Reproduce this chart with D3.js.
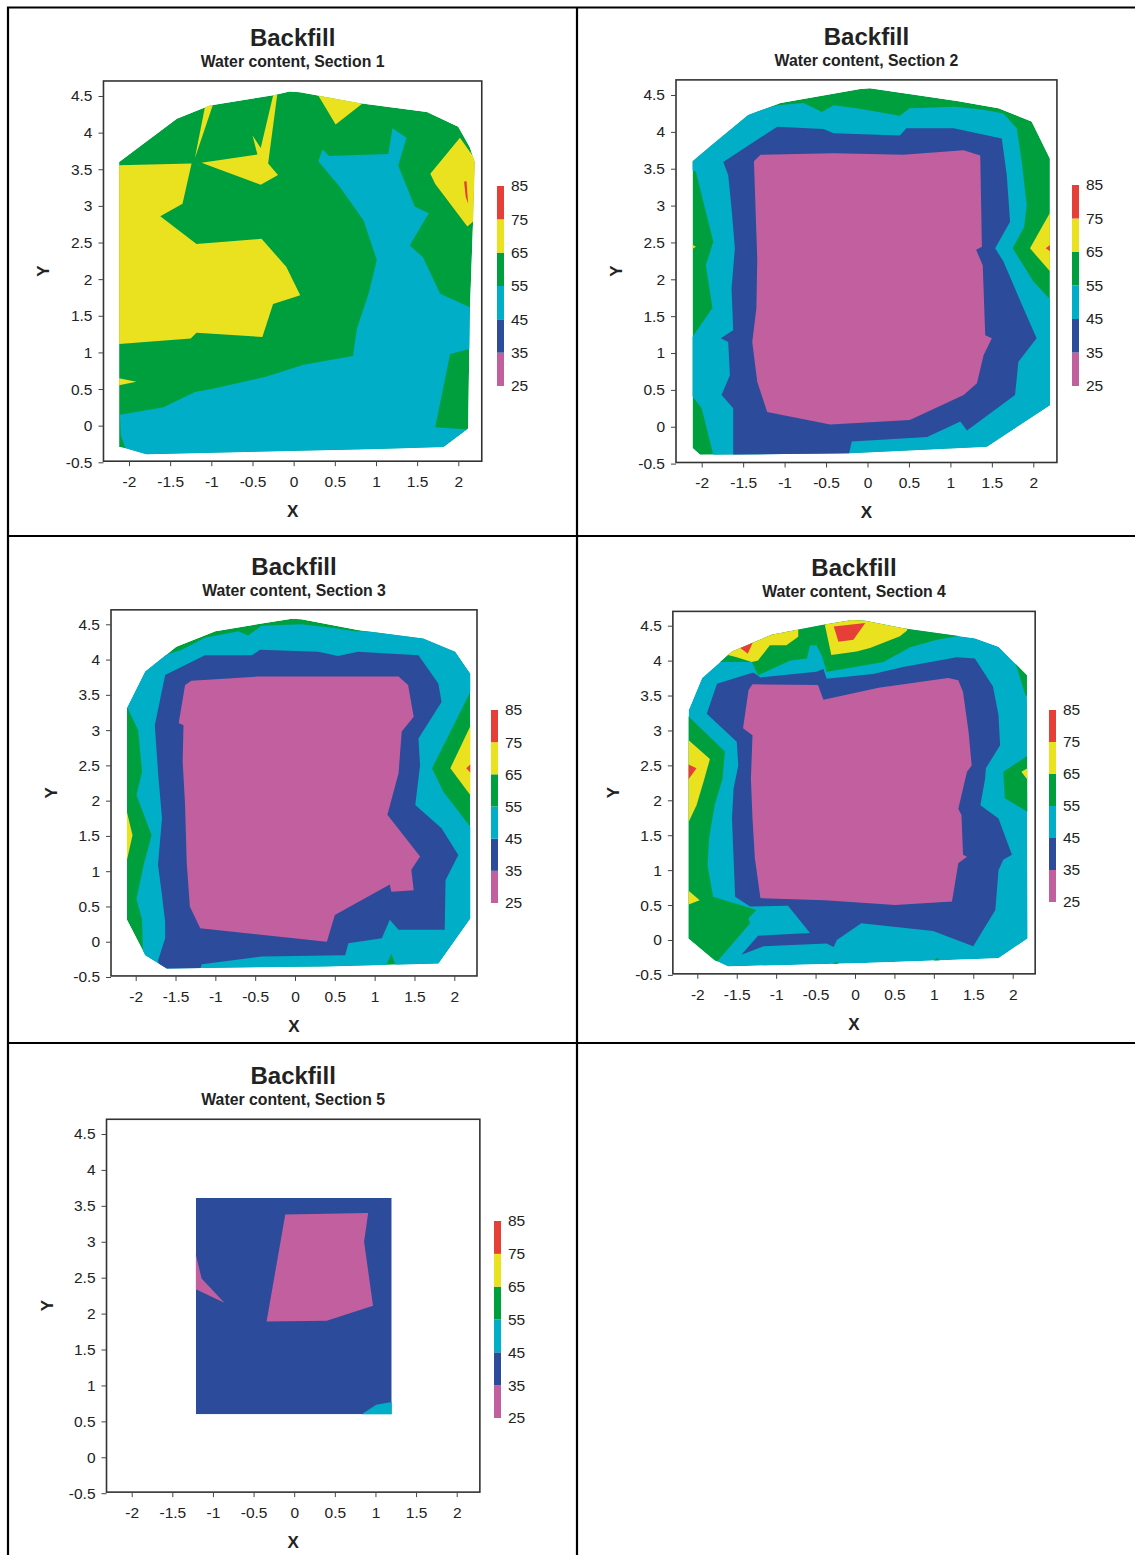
<!DOCTYPE html>
<html>
<head>
<meta charset="utf-8">
<script src="https://cdn.jsdelivr.net/npm/d3@7"></script>
<style>
  body { margin: 0; background: #fff; }
  svg { display: block; }
  text { font-family: "Liberation Sans", Arial, sans-serif; fill: #222; }
</style>
</head>
<body>
<svg id="chart" width="1135" height="1555"></svg>
<script>
// Water content bands (%), lower bound of each colour band and the band colours
const levels = [25, 35, 45, 55, 65, 75, 85];
const bandColors = ["#c2609f", "#2d4b9b", "#00aec7", "#009f3d", "#ebe21f", "#e63f38"];
const legendLabels = ["25", "35", "45", "55", "65", "75", "85"];

const xTicks = [-2, -1.5, -1, -0.5, 0, 0.5, 1, 1.5, 2];
const yTicks = [-0.5, 0, 0.5, 1, 1.5, 2, 2.5, 3, 3.5, 4, 4.5];
const xExtent = [-2.31, 2.285];
const yExtent = [-0.485, 4.705];

const mainTitle = "Backfill";
const sectionTitles = ["Water content, Section 1", "Water content, Section 2",
  "Water content, Section 3", "Water content, Section 4", "Water content, Section 5"];

// Section 1: measured outline (value inside band 55-65) and banded zones, x/y in metres
const s1Hull = [[-2.12,-0.29],[-2.12,3.60],[-1.42,4.19],[-1.02,4.37],[-0.25,4.51],[-0.05,4.56],[0.08,4.55],[0.81,4.40],[1.62,4.28],[2.00,4.08],[2.14,3.80],[2.20,3.60],[2.18,2.80],[2.14,1.53],[2.12,-0.04],[1.82,-0.29],[1.01,-0.32],[-1.79,-0.39],[-2.03,-0.31]];
const s1Zones = [
  {v: 70, pts: [[-2.3,3.55],[-1.24,3.58],[-1.35,3.03],[-1.62,2.86],[-1.18,2.48],[-0.39,2.55],[-0.09,2.17],[0.08,1.78],[-0.25,1.66],[-0.38,1.21],[-1.18,1.27],[-1.25,1.19],[-2.3,1.10]]},
  {v: 70, pts: [[-2.3,0.69],[-1.91,0.60],[-2.3,0.51]]},
  {v: 70, pts: [[-1.06,4.45],[-0.96,4.45],[-1.20,3.65]]},
  {v: 70, pts: [[-1.12,3.59],[-0.44,3.70],[-0.50,3.96],[-0.40,3.79],[-0.23,4.60],[-0.19,4.60],[-0.31,3.58],[-0.19,3.42],[-0.40,3.29]]},
  {v: 70, pts: [[0.25,4.6],[0.88,4.6],[0.84,4.40],[0.51,4.11]]},
  {v: 70, pts: [[1.66,3.44],[2.02,3.93],[2.14,3.74],[2.3,3.5],[2.3,2.9],[2.11,2.72],[1.72,3.30]]},
  {v: 80, pts: [[2.07,3.33],[2.10,3.34],[2.12,3.03],[2.09,3.12]]},
  {v: 50, pts: [[0.30,3.61],[0.35,3.77],[0.43,3.68],[1.15,3.71],[1.20,4.06],[1.37,3.93],[1.27,3.55],[1.47,2.99],[1.64,2.90],[1.41,2.46],[1.57,2.30],[1.78,1.80],[2.25,1.56],[2.25,1.08],[1.90,0.98],[1.72,-0.02],[2.08,-0.05],[2.3,-0.05],[2.3,-0.6],[-1.95,-0.6],[-2.10,-0.13],[-2.11,0.15],[-1.58,0.25],[-1.20,0.46],[-1.00,0.50],[-0.33,0.67],[0.12,0.83],[0.72,0.95],[0.77,1.33],[0.91,1.80],[1.01,2.26],[0.85,2.80],[0.56,3.26]]}
];

// Section 2
const s2Hull = [[-2.11,-0.29],[-2.11,3.60],[-1.90,3.80],[-1.44,4.23],[-1.05,4.39],[-0.09,4.58],[0.03,4.59],[1.08,4.42],[1.58,4.32],[1.98,4.14],[2.20,3.64],[2.20,0.29],[1.44,-0.27],[-0.21,-0.36],[-2.02,-0.38]];
const s2Zones = [
  {v: 50, pts: [[-2.07,3.46],[-2.3,3.55],[-2.3,3.9],[-1.44,4.25],[-1.09,4.36],[-0.77,4.39],[-0.55,4.27],[-0.41,4.36],[-0.13,4.32],[0.39,4.22],[0.51,4.32],[1.06,4.34],[1.40,4.30],[1.64,4.25],[1.80,4.05],[1.86,3.60],[1.92,3.01],[1.89,2.71],[1.75,2.42],[1.88,2.19],[2.00,1.97],[2.3,1.61],[2.3,-0.5],[-1.86,-0.5],[-1.86,-0.38],[-2.00,0.25],[-2.11,0.41],[-2.3,0.41],[-2.3,1.22],[-2.11,1.22],[-1.87,1.61],[-1.95,2.19],[-1.86,2.51],[-1.96,2.96]]},
  {v: 70, pts: [[1.96,2.42],[2.3,3.10],[2.3,1.98]]},
  {v: 80, pts: [[2.15,2.42],[2.3,2.55],[2.3,2.30]]},
  {v: 70, pts: [[-2.3,2.6],[-2.07,2.44],[-2.3,2.28]]},
  {v: 40, pts: [[-1.74,3.59],[-1.09,4.07],[-0.53,4.04],[-0.41,3.98],[0.39,3.95],[0.47,4.05],[1.04,4.05],[1.62,3.91],[1.68,3.41],[1.72,2.78],[1.54,2.42],[1.64,2.24],[1.88,1.61],[2.04,1.20],[1.82,0.88],[1.78,0.43],[1.20,-0.05],[1.12,0.07],[0.72,-0.14],[-0.19,-0.20],[-0.25,-0.5],[-1.62,-0.5],[-1.62,0.25],[-1.76,0.43],[-1.66,0.70],[-1.68,1.15],[-1.77,1.20],[-1.62,1.31],[-1.64,1.88],[-1.60,2.42],[-1.64,2.96],[-1.68,3.41]]},
  {v: 30, pts: [[-1.37,3.60],[-1.29,3.69],[-0.41,3.71],[0.43,3.69],[1.16,3.75],[1.36,3.68],[1.38,2.44],[1.31,2.40],[1.39,2.19],[1.42,1.24],[1.50,1.20],[1.40,0.97],[1.32,0.59],[1.16,0.43],[0.51,0.09],[-0.45,0.03],[-1.21,0.20],[-1.33,0.61],[-1.39,1.15],[-1.34,1.61],[-1.33,2.28]]}
];

// Section 3
const s3Hull = [[-2.11,3.31],[-1.88,3.83],[-1.49,4.18],[-1.00,4.40],[-0.42,4.51],[-0.04,4.58],[0.08,4.57],[0.79,4.42],[1.61,4.30],[2.01,4.11],[2.20,3.80],[2.20,0.33],[1.80,-0.31],[0.38,-0.35],[-1.61,-0.38],[-1.88,-0.19],[-2.11,0.31]];
const s3Zones = [
  {v: 50, pts: [[-1.97,3.00],[-2.11,3.33],[-2.2,3.45],[-1.95,3.95],[-1.42,4.14],[-1.13,4.31],[-0.71,4.40],[-0.59,4.34],[-0.42,4.48],[0.08,4.50],[0.46,4.45],[0.75,4.40],[1.61,4.4],[2.01,4.2],[2.3,3.80],[2.3,3.54],[2.20,3.54],[1.97,3.02],[1.72,2.46],[1.86,2.13],[2.20,1.63],[2.3,1.63],[2.3,-0.6],[1.26,-0.6],[1.26,-0.32],[1.21,-0.17],[1.15,-0.32],[1.15,-0.6],[-1.9,-0.6],[-1.92,0.31],[-1.99,0.61],[-1.90,1.09],[-1.80,1.51],[-1.99,2.08],[-1.92,2.41]]},
  {v: 70, pts: [[1.95,2.46],[2.3,3.29],[2.3,1.93]]},
  {v: 80, pts: [[2.15,2.46],[2.3,2.62],[2.3,2.28]]},
  {v: 70, pts: [[-2.3,1.84],[-2.11,1.84],[-2.04,1.51],[-2.11,1.16],[-2.3,1.16]]},
  {v: 40, pts: [[-1.76,3.07],[-1.63,3.78],[-1.13,4.06],[-0.54,4.06],[-0.44,4.14],[0.29,4.11],[0.54,4.05],[0.79,4.11],[1.55,4.06],[1.80,3.66],[1.84,3.40],[1.55,2.88],[1.57,2.50],[1.51,1.94],[1.84,1.61],[2.05,1.23],[1.89,0.87],[1.88,0.17],[1.30,0.17],[1.19,0.31],[1.09,0.05],[0.67,-0.02],[0.63,-0.19],[-0.42,-0.21],[-1.17,-0.32],[-1.26,-0.6],[-1.65,-0.6],[-1.72,-0.27],[-1.63,0.05],[-1.63,0.28],[-1.67,0.66],[-1.72,1.09],[-1.67,1.75],[-1.72,2.41]]},
  {v: 30, pts: [[-1.38,3.64],[-1.30,3.70],[-0.46,3.76],[1.30,3.76],[1.42,3.64],[1.49,3.19],[1.34,2.98],[1.30,2.39],[1.16,1.80],[1.57,1.21],[1.46,1.02],[1.49,0.73],[1.21,0.71],[1.19,0.81],[0.50,0.38],[0.40,0.00],[-1.19,0.19],[-1.32,0.50],[-1.36,1.13],[-1.38,1.94],[-1.41,2.55],[-1.40,3.07],[-1.46,3.10]]}
];

// Section 4
const s4Hull = [[-2.11,3.29],[-1.94,3.75],[-1.56,4.13],[-1.06,4.37],[-0.42,4.51],[-0.04,4.58],[0.13,4.57],[0.63,4.46],[1.52,4.32],[1.82,4.20],[2.18,3.79],[2.19,0.02],[1.82,-0.26],[0.13,-0.33],[-1.61,-0.38],[-1.78,-0.29],[-2.11,0.02]];
const s4Zones = [
  {v: 60, pts: [[-1.78,3.98],[-1.78,4.80],[1.40,4.80],[1.40,4.37],[1.04,4.30],[0.70,4.19],[0.36,3.98],[-0.15,3.88],[-0.36,3.84],[-0.42,4.07],[-0.49,4.22],[-0.57,4.22],[-0.61,4.03],[-0.82,4.00],[-1.23,3.79],[-1.31,3.98],[-1.50,3.98]]},
  {v: 60, pts: [[-2.24,3.22],[-2.11,3.20],[-1.65,2.70],[-1.68,2.31],[-1.78,1.93],[-1.85,1.46],[-1.87,1.07],[-1.80,0.62],[-1.25,0.43],[-1.35,0.31],[-1.33,0.24],[-1.75,-0.31],[-2.24,-0.31]]},
  {v: 60, pts: [[1.88,2.41],[2.33,2.74],[2.33,1.74],[1.90,2.03]]},
  {v: 60, pts: [[2.03,3.98],[2.33,3.98],[2.33,3.36],[2.16,3.51]]},
  {v: 60, pts: [[-0.60,-0.5],[-0.23,-0.31],[-0.10,-0.5]]},
  {v: 60, pts: [[0.88,-0.45],[1.04,-0.25],[1.20,-0.45]]},
  {v: 70, pts: [[-1.61,4.08],[-1.56,4.6],[-0.72,4.6],[-0.72,4.34],[-0.87,4.22],[-1.08,4.22],[-1.23,4.00],[-1.31,3.98],[-1.50,4.05]]},
  {v: 70, pts: [[-0.38,4.70],[0.68,4.70],[0.66,4.43],[0.57,4.35],[0.19,4.18],[0.02,4.13],[-0.30,4.08],[-0.38,4.50]]},
  {v: 70, pts: [[-2.24,2.89],[-2.11,2.86],[-1.84,2.59],[-1.92,2.27],[-2.01,1.93],[-2.11,1.69],[-2.24,1.69]]},
  {v: 70, pts: [[-2.24,0.83],[-1.97,0.57],[-2.24,0.45]]},
  {v: 70, pts: [[2.11,2.41],[2.33,2.55],[2.33,2.08]]},
  {v: 80, pts: [[-1.50,4.22],[-1.24,4.40],[-1.36,4.10]]},
  {v: 80, pts: [[-0.27,4.49],[0.13,4.54],[-0.02,4.30],[-0.21,4.27]]},
  {v: 80, pts: [[-2.24,2.58],[-2.01,2.46],[-2.24,2.10]]},
  {v: 40, pts: [[-1.88,3.24],[-1.75,3.67],[-1.29,3.83],[-1.20,3.76],[-0.49,3.84],[-0.40,3.88],[-0.36,3.74],[0.23,3.81],[0.61,3.91],[1.29,4.05],[1.52,4.03],[1.75,3.63],[1.82,3.22],[1.84,2.79],[1.66,2.46],[1.65,2.31],[1.59,1.93],[1.82,1.74],[1.99,1.22],[1.88,1.15],[1.82,1.00],[1.78,0.43],[1.50,-0.09],[0.99,0.13],[0.08,0.24],[-0.23,0.00],[-0.27,-0.10],[-0.36,-0.05],[-1.16,-0.09],[-1.44,-0.21],[-1.23,0.06],[-0.57,0.10],[-0.85,0.49],[-1.33,0.48],[-1.52,0.62],[-1.54,1.17],[-1.56,1.74],[-1.54,2.17],[-1.48,2.50],[-1.50,2.84]]},
  {v: 30, pts: [[-1.35,3.58],[-1.30,3.66],[-0.47,3.65],[-0.40,3.44],[0.30,3.61],[1.18,3.75],[1.31,3.72],[1.37,3.55],[1.44,2.98],[1.48,2.50],[1.42,2.41],[1.31,1.88],[1.35,1.79],[1.37,1.22],[1.42,1.19],[1.31,1.10],[1.23,0.55],[0.51,0.50],[-0.38,0.57],[-1.20,0.60],[-1.27,1.17],[-1.30,1.74],[-1.32,2.31],[-1.30,2.93],[-1.42,3.03]]}
];

// Section 5
const s5Hull = [[-1.21,0.60],[-1.21,3.61],[1.20,3.61],[1.20,0.60]];
const s5Zones = [
  {v: 30, pts: [[-0.11,3.38],[0.91,3.40],[0.86,3.00],[0.97,2.11],[0.40,1.90],[-0.34,1.89]]},
  {v: 30, pts: [[-1.3,2.82],[-1.21,2.82],[-1.14,2.49],[-0.86,2.15],[-1.21,2.34],[-1.3,2.34]]},
  {v: 50, pts: [[0.83,0.60],[1.01,0.73],[1.20,0.77],[1.3,0.77],[1.3,0.5],[0.83,0.5]]}
];

const sections = [
  {hull: s1Hull, base: 60, zones: s1Zones},
  {hull: s2Hull, base: 60, zones: s2Zones},
  {hull: s3Hull, base: 60, zones: s3Zones},
  {hull: s4Hull, base: 50, zones: s4Zones},
  {hull: s5Hull, base: 40, zones: s5Zones}
];

// Page layout of the five panels (pixel anchors of x=-2/2 and y=-0.5/4.5, legend bar)
const layout = [
  {xa: 129,   xb: 458.3,  ya: 462.3,  yb: 96,     lx: 497,  ly: 186,  lh: 200},
  {xa: 701.7, xb: 1033.3, ya: 463.6,  yb: 95,     lx: 1072, ly: 185,  lh: 201},
  {xa: 135.7, xb: 454.3,  ya: 977,    yb: 624.3,  lx: 491,  ly: 710,  lh: 193},
  {xa: 697.3, xb: 1012.7, ya: 974.9,  yb: 625.7,  lx: 1049, ly: 710,  lh: 192},
  {xa: 131.7, xb: 456.7,  ya: 1493.2, yb: 1134,   lx: 494,  ly: 1221, lh: 197}
];

const svg = d3.select("#chart");
const color = d3.scaleThreshold().domain(levels.slice(1, -1)).range(bandColors);

// cell frame lines
const frame = svg.append("g").attr("stroke", "#000").attr("stroke-width", 2.2).attr("fill", "none");
frame.append("path").attr("d", "M8,1555 V7.5 H1135");
frame.append("line").attr("x1", 577).attr("x2", 577).attr("y1", 7).attr("y2", 1555);
frame.append("line").attr("x1", 8).attr("x2", 1135).attr("y1", 536).attr("y2", 536);
frame.append("line").attr("x1", 8).attr("x2", 1135).attr("y1", 1043).attr("y2", 1043);

sections.forEach((sec, i) => {
  const L = layout[i];
  const x = d3.scaleLinear().domain([-2, 2]).range([L.xa, L.xb]);
  const y = d3.scaleLinear().domain([-0.5, 4.5]).range([L.ya, L.yb]);
  const left = x(xExtent[0]), right = x(xExtent[1]);
  const top = y(yExtent[1]), bottom = y(yExtent[0]);
  const cx = (left + right) / 2, cy = (top + bottom) / 2;
  const poly = d3.line().x(d => x(d[0])).y(d => y(d[1]));
  const g = svg.append("g");

  const clipId = "clip-s" + (i + 1);
  svg.append("defs").append("clipPath").attr("id", clipId)
    .append("path").attr("d", poly(sec.hull) + "Z");

  const fills = g.append("g").attr("clip-path", `url(#${clipId})`);
  fills.append("path").attr("d", poly(sec.hull) + "Z").attr("fill", color(sec.base));
  fills.selectAll("path.zone").data(sec.zones).join("path")
    .attr("class", "zone")
    .attr("d", d => poly(d.pts) + "Z")
    .attr("fill", d => color(d.v));

  // plot frame
  g.append("rect").attr("x", left).attr("y", top)
    .attr("width", right - left).attr("height", bottom - top)
    .attr("fill", "none").attr("stroke", "#333").attr("stroke-width", 1.6);

  // axes
  const xAxis = d3.axisBottom(x).tickValues(xTicks).tickFormat(d => String(d)).tickSize(5).tickPadding(10);
  const gx = g.append("g").attr("transform", `translate(0,${bottom})`).call(xAxis);
  const yAxis = d3.axisLeft(y).tickValues(yTicks).tickFormat(d => String(d)).tickSize(5).tickPadding(6);
  const gy = g.append("g").attr("transform", `translate(${left},0)`).call(yAxis);
  [gx, gy].forEach(a => {
    a.select(".domain").remove();
    a.selectAll(".tick line").attr("stroke", "#444");
    a.selectAll(".tick text").attr("font-size", 15.5).attr("fill", "#333")
      .attr("font-family", '"Liberation Sans", Arial, sans-serif');
  });

  // titles
  g.append("text").attr("x", cx).attr("y", top - 35).attr("text-anchor", "middle")
    .attr("font-size", 24).attr("font-weight", "bold").text(mainTitle);
  g.append("text").attr("x", cx).attr("y", top - 14).attr("text-anchor", "middle")
    .attr("font-size", 15.8).attr("font-weight", "bold").text(sectionTitles[i]);
  g.append("text").attr("x", cx).attr("y", bottom + 56).attr("text-anchor", "middle")
    .attr("font-size", 17).attr("font-weight", "bold").text("X");
  g.append("text").attr("transform", `translate(${left - 54},${cy}) rotate(-90)`)
    .attr("text-anchor", "middle").attr("font-size", 17).attr("font-weight", "bold").text("Y");

  // colour key
  const ly = d3.scaleLinear().domain([levels[0], levels[levels.length - 1]]).range([L.ly + L.lh, L.ly]);
  const key = g.append("g");
  key.selectAll("rect").data(bandColors).join("rect")
    .attr("x", L.lx).attr("width", 7)
    .attr("y", (c, k) => ly(levels[k + 1]))
    .attr("height", (c, k) => ly(levels[k]) - ly(levels[k + 1]))
    .attr("fill", c => c);
  key.selectAll("text").data(levels).join("text")
    .attr("x", L.lx + 14).attr("y", d => ly(d)).attr("dy", "0.35em")
    .attr("font-size", 15.5).attr("fill", "#333")
    .text((d, k) => legendLabels[k]);
});
</script>
</body>
</html>
